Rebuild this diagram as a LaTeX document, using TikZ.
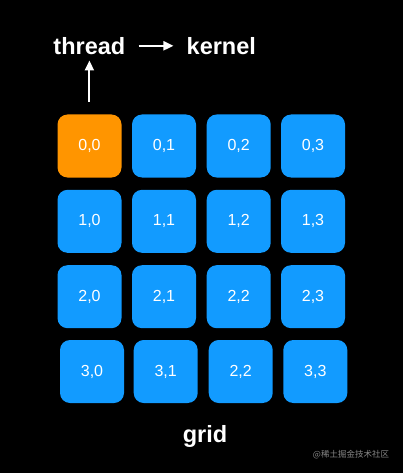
\documentclass[tikz,border=0pt]{standalone}
\usepackage{fontspec}
\setmainfont{Liberation Sans}
\newfontfamily\cjk{Noto Sans CJK SC}
\usetikzlibrary{arrows.meta}
\definecolor{cellblue}{RGB}{18,155,255}
\definecolor{cellorange}{RGB}{255,149,0}
\definecolor{wmgrey}{RGB}{135,135,135}
\begin{document}
\begin{tikzpicture}[x=1pt,y=-1pt,
  cell/.style={fill=cellblue,rounded corners=10pt,minimum width=64pt,minimum height=63pt,
    inner sep=0pt,text=white,font=\fontsize{16}{18}\selectfont},
  lbl/.style={text=white,font=\bfseries\fontsize{23.5}{26}\selectfont,anchor=base,
    text height=17pt,text depth=0pt,inner ysep=6pt,inner xsep=13pt},
  arr/.style={white,line width=2pt,-{Triangle[length=10pt,width=9pt]}}]
\fill[black] (0,0) rectangle (403,473);
\useasboundingbox (0,0) rectangle (403,473);
% top labels
\node[lbl] (thread) at (89.4,54.3) {thread};
\node[lbl] (kernel) at (221.3,54.3) {kernel};
\coordinate (start) at (89.4,102);
\draw[arr] (thread.east) -- (kernel.west);
\draw[arr] (start) -- (thread);
% grid cells
\node[cell,fill=cellorange] (c00) at (89.5,146) {0,0};
\node[cell] (c01) at (164,146) {0,1};
\node[cell] (c02) at (238.7,146) {0,2};
\node[cell] (c03) at (313,146) {0,3};
\node[cell] (c10) at (89.5,221.3) {1,0};
\node[cell] (c11) at (164,221.3) {1,1};
\node[cell] (c12) at (238.7,221.3) {1,2};
\node[cell] (c13) at (313,221.3) {1,3};
\node[cell] (c20) at (89.5,296.7) {2,0};
\node[cell] (c21) at (164,296.7) {2,1};
\node[cell] (c22) at (238.7,296.7) {2,2};
\node[cell] (c23) at (313,296.7) {2,3};
\node[cell] (c30) at (92,371.5) {3,0};
\node[cell] (c31) at (165.7,371.5) {3,1};
\node[cell] (c32) at (240.7,371.5) {2,2};
\node[cell] (c33) at (315.3,371.5) {3,3};
% bottom label
\node[lbl] (grid) at (205,442.5) {grid};
\node[text=wmgrey,font=\cjk\fontsize{8.5}{10}\selectfont] (wm) at (351,455) {@稀土掘金技术社区};
\end{tikzpicture}
\end{document}
